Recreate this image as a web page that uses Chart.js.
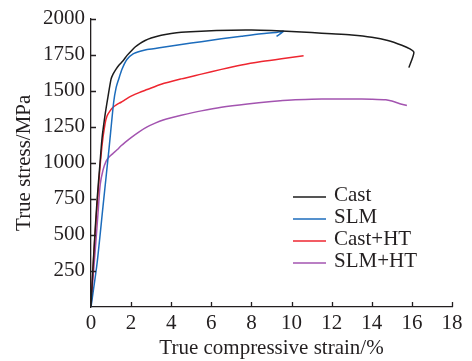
<!DOCTYPE html>
<html><head><meta charset="utf-8">
<script src="https://cdn.jsdelivr.net/npm/chart.js@4/dist/chart.umd.min.js"></script>
<style>html,body{margin:0;padding:0;background:#fff}#wrap{width:472px;height:361px}</style>
</head><body><div id="wrap"><canvas id="c" width="472" height="361"></canvas></div>
<script>
const seriesLabels = ['Cast', 'SLM', 'Cast+HT', 'SLM+HT'];
const xTickValues = [0, 2, 4, 6, 8, 10, 12, 14, 16, 18];
const yTickValues = [250, 500, 750, 1000, 1250, 1500, 1750, 2000];

const castStrain = [0, 0.05, 0.15, 0.3, 0.45, 0.55, 0.7, 0.85, 1.0, 1.1, 1.25, 1.4, 1.6, 1.8, 2.0, 2.2, 2.45, 2.7, 3.0, 3.5, 4.0, 4.5, 5.5, 7, 8, 9, 10, 11, 12, 13, 14, 14.8, 15.5, 15.9, 16.1, 15.85];
const castStress = [0, 150, 400, 735, 1000, 1170, 1330, 1460, 1580, 1615, 1650, 1678, 1708, 1745, 1775, 1803, 1828, 1848, 1865, 1885, 1897, 1905, 1913, 1920, 1921, 1917, 1910, 1903, 1895, 1886, 1870, 1848, 1815, 1790, 1765, 1660];

const slmStrain = [0, 0.3, 0.6, 0.9, 1.13, 1.25, 1.38, 1.55, 1.79, 2.1, 2.5, 2.8, 3.5, 4.5, 5.5, 6.5, 7.5, 8.5, 9.3, 9.6, 9.25];
const slmStress = [0, 300, 700, 1100, 1420, 1520, 1580, 1650, 1716, 1755, 1775, 1785, 1800, 1820, 1840, 1860, 1878, 1895, 1905, 1912, 1877];

const castHtStrain = [0, 0.05, 0.2, 0.38, 0.55, 0.7, 0.8, 0.95, 1.1, 1.3, 1.5, 1.75, 2, 2.4, 2.8, 3.5, 4.5, 5.5, 6.5, 7.5, 8.5, 9.5, 10.6];
const castHtStress = [0, 140, 500, 850, 1120, 1270, 1325, 1360, 1385, 1405, 1420, 1442, 1462, 1487, 1508, 1545, 1582, 1615, 1648, 1678, 1702, 1722, 1742];

const slmHtStrain = [0, 0.1, 0.21, 0.35, 0.46, 0.6, 0.75, 0.9, 1.1, 1.3, 1.5, 1.7, 2.0, 2.4, 2.8, 3.2, 3.6, 4.0, 4.5, 5.5, 6.5, 7.8, 9, 10, 11, 12, 13, 14, 14.7, 15.0, 15.4, 15.75];
const slmHtStress = [0, 200, 390, 650, 850, 950, 1010, 1040, 1065, 1090, 1118, 1142, 1175, 1215, 1249, 1275, 1297, 1313, 1330, 1360, 1385, 1408, 1425, 1436, 1441, 1443, 1443, 1441, 1437, 1428, 1410, 1397];

const colors = ['#1c1c1c', '#1c6cbc', '#ee2630', '#a354b0'];
const textColor = '#231f20';
const fontFamily = '"Liberation Serif", "Times New Roman", serif';

function pts(xs, ys) { return xs.map((x, i) => ({ x: x, y: ys[i] })); }

const seriesData = [
  pts(castStrain, castStress),
  pts(slmStrain, slmStress),
  pts(castHtStrain, castHtStress),
  pts(slmHtStrain, slmHtStress)
];

const ticksAndLegend = {
  id: 'ticksAndLegend',
  afterDraw(chart) {
    const ctx = chart.ctx;
    const xs = chart.scales.x, ys = chart.scales.y;
    const area = chart.chartArea;
    ctx.save();
    ctx.strokeStyle = textColor;
    ctx.lineWidth = 1.3;
    ctx.beginPath();
    xTickValues.forEach(v => {
      if (v === 0) return;
      const px = Math.round(xs.getPixelForValue(v)) + 0.5;
      ctx.moveTo(px, area.bottom);
      ctx.lineTo(px, area.bottom - 5);
    });
    yTickValues.forEach(v => {
      const py = Math.round(ys.getPixelForValue(v)) + 0.5;
      ctx.moveTo(area.left, py);
      ctx.lineTo(area.left + 5, py);
    });
    ctx.stroke();
    // legend
    const lx0 = area.left + 202, lx1 = area.left + 235, tx = area.left + 243;
    const ly0 = area.top + 177, dy = 22;
    ctx.font = '21px ' + fontFamily;
    ctx.textBaseline = 'middle';
    ctx.textAlign = 'left';
    chart.data.datasets.forEach((ds, i) => {
      const y = ly0 + i * dy;
      ctx.strokeStyle = ds.borderColor;
      ctx.lineWidth = 1.5;
      ctx.beginPath();
      ctx.moveTo(lx0, y + 1.5);
      ctx.lineTo(lx1, y + 1.5);
      ctx.stroke();
      ctx.fillStyle = textColor;
      ctx.fillText(ds.label, tx, y);
    });
    ctx.restore();
  }
};

new Chart(document.getElementById('c'), {
  type: 'scatter',
  data: {
    datasets: seriesLabels.map((lab, i) => ({
      label: lab,
      data: seriesData[i],
      showLine: true,
      borderColor: colors[i],
      backgroundColor: colors[i],
      borderWidth: 1.5,
      pointRadius: 0,
      pointHoverRadius: 0,
      tension: 0.25,
      fill: false
    }))
  },
  options: {
    responsive: false,
    animation: false,
    devicePixelRatio: 1,
    layout: { padding: { left: 0, right: 20, top: 15, bottom: 0 } },
    plugins: { legend: { display: false }, tooltip: { enabled: false } },
    scales: {
      x: {
        type: 'linear', min: 0, max: 18,
        afterBuildTicks(s) { s.ticks = xTickValues.map(v => ({ value: v })); },
        afterFit(s) { s.height = 54; },
        grid: { display: false, drawTicks: false },
        border: { display: true, color: textColor, width: 1.3 },
        ticks: { color: textColor, font: { family: fontFamily, size: 21 }, padding: 4, maxRotation: 0 },
        title: { display: true, text: 'True compressive strain/%', color: textColor, font: { family: fontFamily, size: 21 }, padding: { top: 0, bottom: 0 } }
      },
      y: {
        type: 'linear', min: 0, max: 2000,
        afterBuildTicks(s) { s.ticks = [0].concat(yTickValues).map(v => ({ value: v })); },
        afterFit(s) { s.width = 91; },
        grid: { display: false, drawTicks: false },
        border: { display: true, color: textColor, width: 1.3 },
        ticks: { color: textColor, font: { family: fontFamily, size: 21 }, padding: 6, callback: v => (v === 0 ? '' : String(v)) },
        title: { display: true, text: 'True stress/MPa', color: textColor, font: { family: fontFamily, size: 21 }, padding: { top: 12, bottom: 0 } }
      }
    }
  },
  plugins: [ticksAndLegend]
});
</script>
</body></html>
